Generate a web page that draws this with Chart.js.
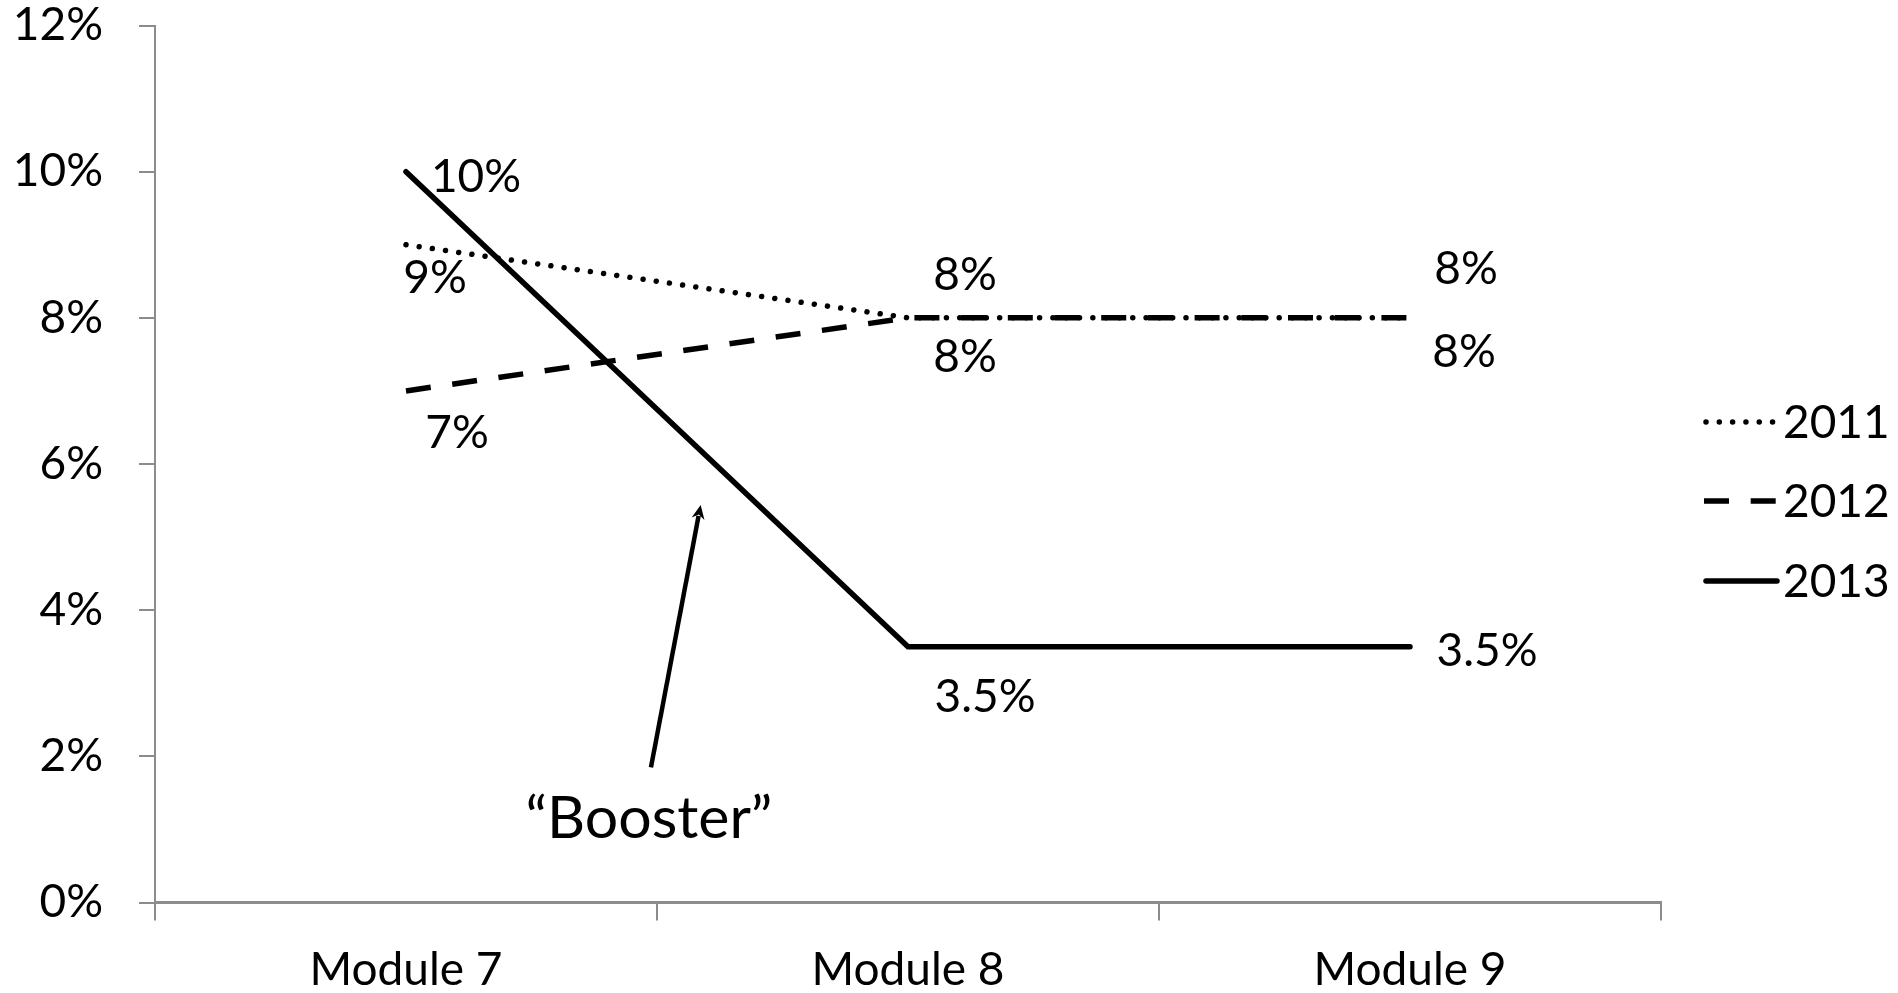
<!DOCTYPE html>
<html>
<head>
<meta charset="utf-8">
<script src="https://cdn.jsdelivr.net/npm/chart.js@4/dist/chart.umd.min.js"></script>
<style>
  html, body { margin: 0; padding: 0; background: #ffffff; }
  #wrap { width: 1898px; height: 993px; }
</style>
</head>
<body>
<div id="wrap"><canvas id="chart" width="1898" height="993"></canvas></div>
<script>
// Share of learners per module, by cohort year (percent)
const modules = ['Module 7', 'Module 8', 'Module 9'];
const years = ['2011', '2012', '2013'];
const values2011 = [9, 8, 8];
const values2012 = [7, 8, 8];
const values2013 = [10, 3.5, 3.5];
const yTicks = [0, 2, 4, 6, 8, 10, 12];

// Where each value label sits relative to its point: [dx to text centre, dy to baseline]
const labelOffsets2011 = [[29, 48], [57, -28], [56, -34]];
const labelOffsets2012 = [[51, 57], [57, 54], [54, 49]];
const labelOffsets2013 = [[70, 20], [77, 65], [77, 19]];

// Annotation: the "Booster" arrow, in chart coordinates (category index, percent)
const boosterText = '\u201cBooster\u201d';
const boosterTail = [0.488, 1.85];
const boosterTip = [0.587, 5.44];
const boosterTextAt = [0.484, 0.88];

const FONT = 'Lato, "Open Sans", sans-serif';
const AXIS_GREY = '#8c8c8c';

const lineStyles = [
  { borderWidth: 5.5, borderDash: [0.01, 13.3], borderCapStyle: 'round', borderJoinStyle: 'round' },
  { borderWidth: 5.5, borderDash: [25, 21.7], borderCapStyle: 'butt', borderJoinStyle: 'miter' },
  { borderWidth: 5.5, borderDash: [], borderCapStyle: 'round', borderJoinStyle: 'miter' }
];
const seriesValues = [values2011, values2012, values2013];
const seriesOffsets = [labelOffsets2011, labelOffsets2012, labelOffsets2013];

const datasets = years.map((y, i) => Object.assign({
  label: y,
  data: seriesValues[i],
  borderColor: '#000000',
  backgroundColor: '#000000',
  pointRadius: 0,
  pointHoverRadius: 0,
  tension: 0,
  fill: false
}, lineStyles[i]));

const fmt = v => v + '%';

// Value labels next to each point
const valueLabels = {
  id: 'valueLabels',
  afterDatasetsDraw(chart) {
    const ctx = chart.ctx;
    const xs = chart.scales.x, ys = chart.scales.y;
    ctx.save();
    ctx.fillStyle = '#000000';
    ctx.font = '46px ' + FONT;
    ctx.textAlign = 'center';
    ctx.textBaseline = 'alphabetic';
    seriesValues.forEach((vals, s) => {
      vals.forEach((v, i) => {
        const px = xs.getPixelForValue(i);
        const py = ys.getPixelForValue(v);
        const off = seriesOffsets[s][i];
        ctx.fillText(fmt(v), px + off[0], py + off[1]);
      });
    });
    ctx.restore();
  }
};

// Arrow with its caption
const boosterNote = {
  id: 'boosterNote',
  afterDatasetsDraw(chart) {
    const ctx = chart.ctx;
    const xs = chart.scales.x, ys = chart.scales.y;
    const tx = xs.getPixelForValue(boosterTail[0]), ty = ys.getPixelForValue(boosterTail[1]);
    const hx = xs.getPixelForValue(boosterTip[0]), hy = ys.getPixelForValue(boosterTip[1]);
    const ang = Math.atan2(hy - ty, hx - tx);
    const headLen = 14, headHalf = 6.5;
    ctx.save();
    ctx.strokeStyle = '#000000';
    ctx.fillStyle = '#000000';
    ctx.lineWidth = 4.5;
    ctx.lineCap = 'butt';
    ctx.beginPath();
    ctx.moveTo(tx, ty);
    ctx.lineTo(hx - Math.cos(ang) * headLen * 0.8, hy - Math.sin(ang) * headLen * 0.8);
    ctx.stroke();
    ctx.beginPath();
    ctx.moveTo(hx, hy);
    ctx.lineTo(hx - Math.cos(ang) * headLen + Math.sin(ang) * headHalf,
               hy - Math.sin(ang) * headLen - Math.cos(ang) * headHalf);
    ctx.lineTo(hx - Math.cos(ang) * headLen * 0.7, hy - Math.sin(ang) * headLen * 0.7);
    ctx.lineTo(hx - Math.cos(ang) * headLen - Math.sin(ang) * headHalf,
               hy - Math.sin(ang) * headLen + Math.cos(ang) * headHalf);
    ctx.closePath();
    ctx.fill();
    ctx.font = '59px ' + FONT;
    ctx.textAlign = 'center';
    ctx.textBaseline = 'alphabetic';
    ctx.fillText(boosterText, xs.getPixelForValue(boosterTextAt[0]), ys.getPixelForValue(boosterTextAt[1]));
    ctx.restore();
  }
};

// Legend on the right: line sample followed by the year
const sideLegend = {
  id: 'sideLegend',
  afterDraw(chart) {
    const ctx = chart.ctx;
    const x0 = 1704, x1 = 1777, textX = 1783;
    const rows = [422, 501, 581];
    ctx.save();
    chart.data.datasets.forEach((ds, i) => {
      const y = rows[i];
      ctx.strokeStyle = ds.borderColor;
      ctx.lineWidth = ds.borderWidth;
      ctx.lineCap = ds.borderCapStyle;
      ctx.setLineDash(ds.borderDash);
      ctx.beginPath();
      ctx.moveTo(x0 + (ds.borderCapStyle === 'round' ? 2 : 0), y);
      ctx.lineTo(x1, y);
      ctx.stroke();
      ctx.setLineDash([]);
      ctx.fillStyle = '#000000';
      ctx.font = '46px ' + FONT;
      ctx.textAlign = 'left';
      ctx.textBaseline = 'alphabetic';
      ctx.fillText(ds.label, textX, y + 16);
    });
    ctx.restore();
  }
};

new Chart(document.getElementById('chart'), {
  type: 'line',
  data: { labels: modules, datasets },
  plugins: [valueLabels, boosterNote, sideLegend],
  options: {
    responsive: false,
    animation: false,
    devicePixelRatio: 1,
    layout: { padding: { top: 25.5, right: 237, bottom: 0, left: 0 } },
    plugins: { legend: { display: false }, tooltip: { enabled: false } },
    events: [],
    scales: {
      x: {
        type: 'category',
        offset: true,
        grid: {
          offset: true,
          drawOnChartArea: false,
          drawTicks: true,
          tickLength: 18,
          color: AXIS_GREY,
          lineWidth: 2
        },
        border: { display: true, color: AXIS_GREY, width: 3 },
        ticks: {
          color: '#000000',
          font: { family: FONT, size: 46, lineHeight: 1.2 },
          padding: 22,
          maxRotation: 0,
          autoSkip: false
        },
        afterFit(scale) {
          scale.height = 90.5;
          scale.paddingLeft = 0;
          scale.paddingRight = 0;
        }
      },
      y: {
        min: 0,
        max: 12,
        afterBuildTicks(scale) { scale.ticks = yTicks.map(v => ({ value: v })); },
        grid: {
          drawOnChartArea: false,
          drawTicks: true,
          tickLength: 16,
          color: AXIS_GREY,
          lineWidth: 2
        },
        border: { display: true, color: AXIS_GREY, width: 2 },
        ticks: {
          color: '#000000',
          font: { family: FONT, size: 46, lineHeight: 1.0 },
          padding: 36,
          callback: v => fmt(v)
        },
        afterFit(scale) {
          scale.width = 155;
          scale.paddingTop = 0;
          scale.paddingBottom = 0;
        }
      }
    }
  }
});
</script>
</body>
</html>
